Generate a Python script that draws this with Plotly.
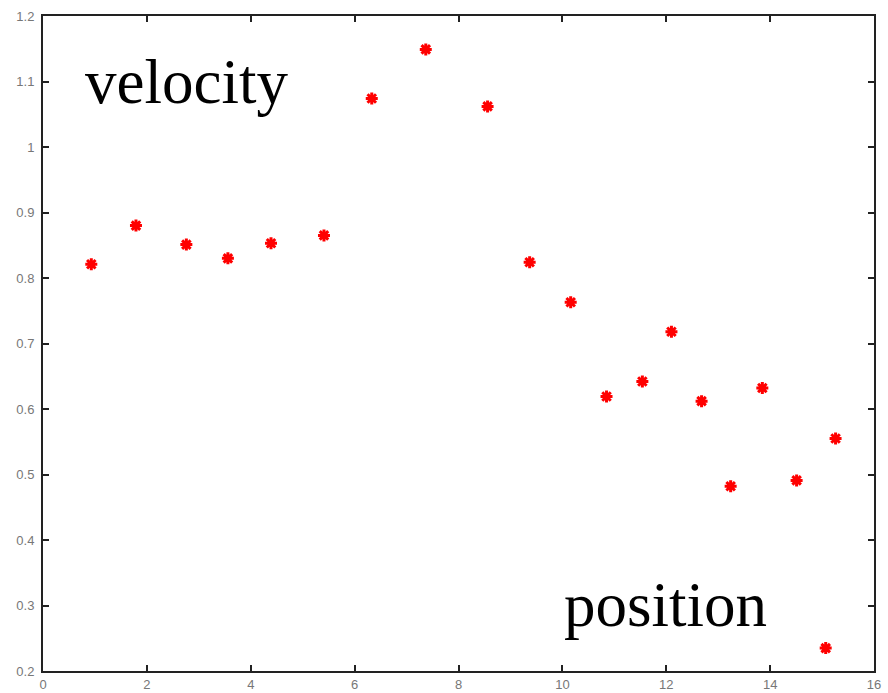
import plotly.graph_objects as go

x_vals = [0.93, 1.79, 2.76, 3.56, 4.39, 5.41, 6.33, 7.37, 8.56, 9.37,
          10.16, 10.85, 11.54, 12.10, 12.68, 13.24, 13.85, 14.51, 15.07, 15.26]
y_vals = [0.821, 0.880, 0.851, 0.830, 0.853, 0.865, 1.074, 1.149, 1.062, 0.824,
          0.763, 0.619, 0.642, 0.718, 0.612, 0.482, 0.632, 0.491, 0.235, 0.555]
x_ticks = [0, 2, 4, 6, 8, 10, 12, 14, 16]
y_ticks = [0.2, 0.3, 0.4, 0.5, 0.6, 0.7, 0.8, 0.9, 1, 1.1, 1.2]
y_tick_text = ["0.2", "0.3", "0.4", "0.5", "0.6", "0.7", "0.8", "0.9", "1", "1.1", "1.2"]

fig = go.Figure()
fig.add_trace(go.Scatter(
    x=x_vals, y=y_vals, mode="markers",
    marker=dict(symbol="asterisk", size=10, color="red",
                line=dict(color="red", width=3)),
    showlegend=False,
))

axis_common = dict(
    showgrid=False, zeroline=False, showline=True, linecolor="#222",
    linewidth=2, mirror="ticks", ticks="inside", ticklen=6, tickwidth=2,
    tickcolor="#222", automargin=False,
    tickfont=dict(family="Liberation Sans, Arial", size=13, color="#777"),
)

fig.update_xaxes(range=[0, 16], tickvals=x_ticks, **axis_common)
fig.update_yaxes(range=[0.2, 1.2], tickvals=y_ticks, ticktext=y_tick_text,
                 ticklabelstandoff=4, **axis_common)

fig.add_annotation(x=0.048, y=0.955, xref="paper", yref="paper", text="velocity",
                   showarrow=False, xanchor="left", yanchor="top",
                   font=dict(family="Liberation Serif, Times New Roman", size=63, color="black"))
fig.add_annotation(x=0.624, y=0.158, xref="paper", yref="paper", text="position",
                   showarrow=False, xanchor="left", yanchor="top",
                   font=dict(family="Liberation Serif, Times New Roman", size=63, color="black"))

fig.update_layout(
    width=888, height=693,
    margin=dict(l=43, r=14, t=16, b=22),
    plot_bgcolor="white", paper_bgcolor="white",
)

fig.write_html("out.html")
